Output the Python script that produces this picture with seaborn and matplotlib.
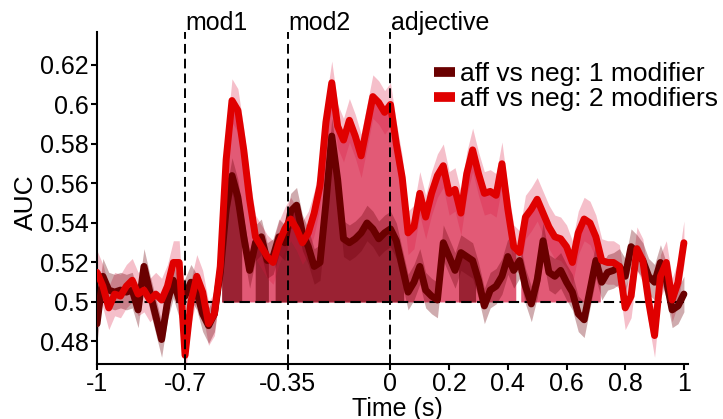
import numpy as np
import pandas as pd
import matplotlib
matplotlib.use("Agg")
import matplotlib.pyplot as plt
import seaborn as sns

# Decoding time course: 20 ms steps from -1 s to 1 s relative to adjective onset
time_s = np.round(np.arange(-1.0, 1.0001, 0.02), 2)

auc_1mod = [
    0.489, 0.513, 0.506, 0.505, 0.506, 0.505, 0.506, 0.496, 0.518, 0.505,
    0.493, 0.481, 0.500, 0.511, 0.501, 0.503, 0.510, 0.505, 0.494, 0.488,
    0.494, 0.515, 0.547, 0.564, 0.553, 0.533, 0.516, 0.530, 0.533, 0.521,
    0.523, 0.533, 0.530, 0.546, 0.549, 0.535, 0.528, 0.518, 0.520, 0.550,
    0.584, 0.562, 0.532, 0.530, 0.532, 0.535, 0.540, 0.537, 0.532, 0.535,
    0.537, 0.531, 0.518, 0.505, 0.510, 0.518, 0.506, 0.503, 0.501, 0.530,
    0.523, 0.516, 0.525, 0.523, 0.521, 0.511, 0.498, 0.506, 0.508, 0.513,
    0.523, 0.516, 0.521, 0.508, 0.499, 0.511, 0.531, 0.515, 0.513, 0.516,
    0.510, 0.505, 0.494, 0.491, 0.506, 0.521, 0.510, 0.515, 0.516, 0.518,
    0.513, 0.528, 0.525, 0.521, 0.513, 0.510, 0.520, 0.511, 0.496, 0.498,
    0.504,
]

auc_2mod = [
    0.515, 0.508, 0.497, 0.504, 0.503, 0.508, 0.511, 0.504, 0.506, 0.501,
    0.504, 0.501, 0.508, 0.520, 0.520, 0.473, 0.500, 0.513, 0.505, 0.489,
    0.494, 0.518, 0.572, 0.602, 0.597, 0.577, 0.552, 0.533, 0.528, 0.523,
    0.520, 0.530, 0.537, 0.542, 0.537, 0.530, 0.535, 0.545, 0.559, 0.591,
    0.611, 0.589, 0.582, 0.592, 0.584, 0.574, 0.589, 0.604, 0.601, 0.596,
    0.600, 0.580, 0.563, 0.535, 0.538, 0.555, 0.543, 0.555, 0.564, 0.569,
    0.555, 0.557, 0.545, 0.565, 0.577, 0.565, 0.555, 0.556, 0.554, 0.570,
    0.547, 0.528, 0.525, 0.543, 0.547, 0.552, 0.545, 0.538, 0.533, 0.532,
    0.528, 0.520, 0.535, 0.542, 0.540, 0.533, 0.521, 0.520, 0.520, 0.518,
    0.497, 0.503, 0.527, 0.521, 0.500, 0.483, 0.513, 0.520, 0.501, 0.510,
    0.530,
]

# Confidence band half-widths
ci_1mod = 0.009
ci_2mod = 0.011

# Significant clusters (start, end) in seconds
clusters_1mod = [(-0.575, -0.507), (-0.461, -0.416), (-0.393, 0.045), (0.232, 0.290)]
clusters_2mod = [(-0.575, 0.427), (0.444, 0.715)]

conditions = ["aff vs neg: 1 modifier", "aff vs neg: 2 modifiers"]
events = [-0.7, -0.35, 0.0]
event_labels = ["mod1", "mod2", "adjective"]

xticks = [-1, -0.7, -0.35, 0, 0.2, 0.4, 0.6, 0.8, 1]
xtick_labels = ["-1", "-0.7", "-0.35", "0", "0.2", "0.4", "0.6", "0.8", "1"]
yticks = [0.48, 0.50, 0.52, 0.54, 0.56, 0.58, 0.60, 0.62]
ytick_labels = ["0.48", "0.5", "0.52", "0.54", "0.56", "0.58", "0.6", "0.62"]
chance = 0.5

line_colors = {conditions[0]: "#6a0000", conditions[1]: "#e00000"}
fill_colors = {conditions[0]: "#9a2233", conditions[1]: "#e25a76"}
band_colors = {conditions[0]: ("#6e000a", 0.33), conditions[1]: ("#dc143c", 0.27)}

sns.set_theme(style="ticks")
plt.rcParams["font.family"] = ["Liberation Sans", "DejaVu Sans"]
plt.rcParams["font.size"] = 18
plt.rcParams["text.color"] = "black"
plt.rcParams["axes.labelcolor"] = "black"
plt.rcParams["legend.labelcolor"] = "black"

fig = plt.figure(figsize=(7.23, 4.19), dpi=100)
ax = fig.add_axes([0.1342, 0.1313, 0.8174, 0.7923])

df = pd.concat([
    pd.DataFrame({"time": time_s, "auc": auc_1mod, "condition": conditions[0]}),
    pd.DataFrame({"time": time_s, "auc": auc_2mod, "condition": conditions[1]}),
], ignore_index=True)

series = {conditions[0]: np.array(auc_1mod), conditions[1]: np.array(auc_2mod)}
clusters = {conditions[0]: clusters_1mod, conditions[1]: clusters_2mod}
ci = {conditions[0]: ci_1mod, conditions[1]: ci_2mod}


def cluster_trace(values, start, end):
    inside = (time_s > start) & (time_s < end)
    xs = np.concatenate([[start], time_s[inside], [end]])
    ys = np.interp(xs, time_s, values)
    return xs, ys


# Shaded significant clusters: 2 modifiers first, 1 modifier on top
for cond in [conditions[1], conditions[0]]:
    for start, end in clusters[cond]:
        xs, ys = cluster_trace(series[cond], start, end)
        ax.fill_between(xs, chance, ys, color=fill_colors[cond], lw=0, zorder=1)

# Confidence bands
for cond in [conditions[1], conditions[0]]:
    col, a = band_colors[cond]
    ax.fill_between(time_s, series[cond] - ci[cond], series[cond] + ci[cond],
                    color=col, alpha=a, lw=0, zorder=2)

# Chance level
ax.plot([-1, 1], [chance, chance], color="black", lw=1.5,
        dashes=(5, 2.6), zorder=3)

# Mean time courses
sns.lineplot(data=df, x="time", y="auc", hue="condition", hue_order=conditions,
             palette=line_colors, lw=5, ax=ax, zorder=4, legend=False)

# Event markers with their labels just above the axes
ymin, ymax = 0.4686, 0.6367
for ev, lab in zip(events, event_labels):
    ax.plot([ev, ev], [ymin, ymax], color="black", lw=1.4, dashes=(5, 2.6),
            clip_on=False, zorder=5)
    ax.text(ev + 0.002, 1.006, lab, ha="left", va="baseline", fontsize=18,
            color="black", transform=ax.get_xaxis_transform(), clip_on=False)

ax.set_xlim(-1, 1.014)
ax.set_ylim(ymin, ymax)
ax.set_xticks(xticks)
ax.set_xticklabels(xtick_labels)
ax.set_yticks(yticks)
ax.set_yticklabels(ytick_labels)
ax.tick_params(direction="out", length=4, width=1.5, pad=2, labelsize=18,
               colors="black")
ax.set_xlabel("Time (s)", fontsize=18, color="black")
ax.xaxis.set_label_coords(0.509, -0.098)
ax.set_ylabel("AUC", fontsize=19, color="black")
ax.yaxis.set_label_coords(-0.100, 0.488)
for side in ["top", "right"]:
    ax.spines[side].set_visible(False)
for side in ["left", "bottom"]:
    ax.spines[side].set_linewidth(1.5)
    ax.spines[side].set_color("black")

handles = [plt.Line2D([], [], color=line_colors[c], lw=7, solid_capstyle="butt")
           for c in conditions]
ax.legend(handles, conditions, loc="upper right", bbox_to_anchor=(1.069, 0.94),
          frameon=False, handlelength=0.8, handletextpad=0.2,
          labelspacing=0.02, fontsize=19, borderaxespad=0, labelcolor="black")

fig.savefig("out.png", dpi=100)
